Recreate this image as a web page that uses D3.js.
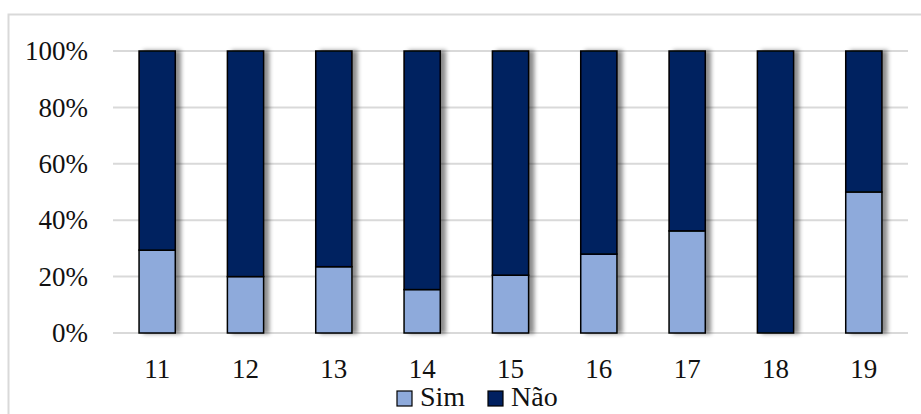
<!DOCTYPE html>
<html>
<head>
<meta charset="utf-8">
<script src="https://cdn.jsdelivr.net/npm/d3@7.9.0/dist/d3.min.js"></script>
<style>
  html, body { margin: 0; padding: 0; background: #fff; }
</style>
</head>
<body>
<svg id="chart" width="921" height="414"></svg>
<script>
const categories = ['11', '12', '13', '14', '15', '16', '17', '18', '19'];
const simValues = [29.4, 20, 23.5, 15.4, 20.5, 28, 36.2, 0, 50];
const naoValues = simValues.map((v) => 100 - v);
const seriesNames = ['Sim', 'Não'];
const seriesColors = ['#8eaadb', '#002060'];
const yTicks = [0, 20, 40, 60, 80, 100];

const FONT = 'Liberation Serif';
const svg = d3.select('#chart');
const margin = { top: 51, right: 13, bottom: 81, left: 113 };
const width = 921 - margin.left - margin.right;
const height = 414 - margin.top - margin.bottom;

// outer chart frame
svg.append('rect')
  .attr('x', 8.5).attr('y', 14.5)
  .attr('width', 940).attr('height', 440)
  .attr('fill', 'none')
  .attr('stroke', '#d9d9d9')
  .attr('stroke-width', 2);

const defs = svg.append('defs');
const shadow = defs.append('filter')
  .attr('id', 'shadow')
  .attr('x', '-20%').attr('y', '-5%')
  .attr('width', '160%').attr('height', '110%');
shadow.append('feDropShadow')
  .attr('dx', 5).attr('dy', 0)
  .attr('stdDeviation', 2)
  .attr('flood-color', '#000')
  .attr('flood-opacity', 0.45);

const g = svg.append('g').attr('transform', `translate(${margin.left},${margin.top})`);

const x = d3.scaleBand().domain(categories).range([0, width]).paddingInner(0.59).paddingOuter(0.295);
const y = d3.scaleLinear().domain([0, 100]).range([height, 0]);

// gridlines
g.append('g')
  .selectAll('line')
  .data(yTicks)
  .join('line')
  .attr('x1', 0).attr('x2', width)
  .attr('y1', (d) => y(d)).attr('y2', (d) => y(d))
  .attr('stroke', '#d9d9d9')
  .attr('stroke-width', 2);

const table = categories.map((c, i) => ({ cat: c, Sim: simValues[i], 'Não': naoValues[i] }));
const stacked = d3.stack().keys(seriesNames)(table);

const bars = g.append('g').attr('filter', 'url(#shadow)');
stacked.forEach((layer, si) => {
  bars.append('g')
    .selectAll('rect')
    .data(layer.filter((d) => d[1] - d[0] > 0))
    .join('rect')
    .attr('x', (d) => x(d.data.cat))
    .attr('y', (d) => y(d[1]))
    .attr('width', x.bandwidth())
    .attr('height', (d) => y(d[0]) - y(d[1]))
    .attr('fill', seriesColors[si])
    .attr('stroke', '#000')
    .attr('stroke-width', 1.5);
});

// y axis labels
g.append('g')
  .selectAll('text')
  .data(yTicks)
  .join('text')
  .attr('x', -25)
  .attr('y', (d) => y(d))
  .attr('dy', '0.34em')
  .attr('text-anchor', 'end')
  .attr('font-family', FONT)
  .attr('font-size', 27)
  .attr('fill', '#111')
  .text((d) => d + '%');

// x axis labels
g.append('g')
  .selectAll('text')
  .data(categories)
  .join('text')
  .attr('x', (d) => x(d) + x.bandwidth() / 2)
  .attr('y', height + 45)
  .attr('text-anchor', 'middle')
  .attr('font-family', FONT)
  .attr('font-size', 27)
  .attr('fill', '#111')
  .text((d) => d);

// legend
const legend = svg.append('g').attr('transform', 'translate(397,391)');
const legendItems = legend.selectAll('g')
  .data(seriesNames)
  .join('g')
  .attr('transform', (d, i) => `translate(${i * 91},0)`);
legendItems.append('rect')
  .attr('x', 0).attr('y', 0)
  .attr('width', 15).attr('height', 15)
  .attr('fill', (d, i) => seriesColors[i])
  .attr('stroke', '#000')
  .attr('stroke-width', 1.2);
legendItems.append('text')
  .attr('x', 23).attr('y', 15)
  .attr('font-family', FONT)
  .attr('font-size', 28)
  .attr('fill', '#111')
  .text((d) => d);
</script>
</body>
</html>
